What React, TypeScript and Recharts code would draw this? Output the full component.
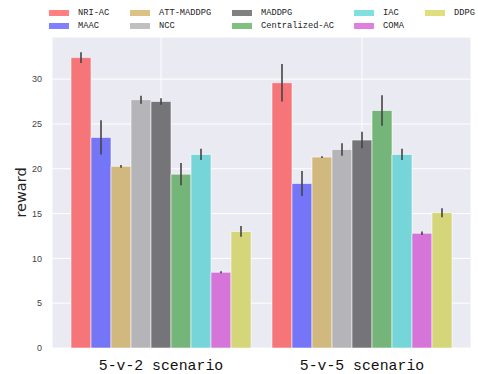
import React from 'react';
import { BarChart, Bar, XAxis, YAxis, CartesianGrid, ErrorBar } from 'recharts';

const CATEGORIES = ['5-v-2 scenario', '5-v-5 scenario'];

const METHODS = ['NRI-AC', 'MAAC', 'ATT-MADDPG', 'NCC', 'MADDPG', 'Centralized-AC', 'IAC', 'COMA', 'DDPG'];

const NRI_AC = [32.4, 29.6];
const MAAC = [23.5, 18.35];
const ATT_MADDPG = [20.27, 21.3];
const NCC = [27.7, 22.15];
const MADDPG = [27.5, 23.2];
const CENTRALIZED_AC = [19.4, 26.5];
const IAC = [21.6, 21.6];
const COMA = [8.45, 12.8];
const DDPG = [13.0, 15.1];

const NRI_AC_ERR = [0.6, 2.1];
const MAAC_ERR = [1.9, 1.4];
const ATT_MADDPG_ERR = [0.15, 0.1];
const NCC_ERR = [0.45, 0.7];
const MADDPG_ERR = [0.37, 0.92];
const CENTRALIZED_AC_ERR = [1.25, 1.7];
const IAC_ERR = [0.63, 0.63];
const COMA_ERR = [0.1, 0.2];
const DDPG_ERR = [0.6, 0.5];

const Y_TICKS = [0, 5, 10, 15, 20, 25, 30];

const VALUES = [NRI_AC, MAAC, ATT_MADDPG, NCC, MADDPG, CENTRALIZED_AC, IAC, COMA, DDPG];
const ERRORS = [NRI_AC_ERR, MAAC_ERR, ATT_MADDPG_ERR, NCC_ERR, MADDPG_ERR, CENTRALIZED_AC_ERR, IAC_ERR, COMA_ERR, DDPG_ERR];

// alpha 0.5 over the plot background (#eaeaf2)
const BAR_COLORS = ['#f57579', '#7575f8', '#d1b87e', '#b5b5b9', '#757579', '#75b579', '#75d5d9', '#d575d9', '#d5d579'];
// alpha 0.5 over white, for the legend patches
const LEGEND_COLORS = ['#ff8080', '#8080ff', '#dcc285', '#c0c0c0', '#808080', '#80c080', '#80dfdf', '#df80df', '#dfdf80'];

const data = CATEGORIES.map((name, i) => {
    const row: Record<string, any> = { name };
    METHODS.forEach((m, j) => {
        row[m] = VALUES[j][i];
        row[m + '_err'] = ERRORS[j][i];
    });
    return row;
});

const MONO = '"Liberation Mono", "DejaVu Sans Mono", monospace';

// legend is 5 columns x 2 rows, filled column by column
const LEGEND_COL_X = [49, 130, 232, 354, 425];
const LEGEND_ROW_Y = [9, 22.5];

const LegendBox = () => (
    <div style={{ position: 'absolute', left: 0, top: 0, width: 478, height: 36 }}>
        {METHODS.map((m, i) => {
            const col = Math.floor(i / 2);
            const row = i % 2;
            return (
                <div key={m} style={{ position: 'absolute', left: LEGEND_COL_X[col], top: LEGEND_ROW_Y[row], display: 'flex', alignItems: 'center', height: 7 }}>
                    <div style={{ width: 20, height: 6, background: LEGEND_COLORS[i] }} />
                    <span style={{ marginLeft: 9, fontFamily: MONO, fontSize: 8.7, color: '#222', whiteSpace: 'nowrap' }}>{m}</span>
                </div>
            );
        })}
    </div>
);

const YLabel = (props: any) => {
    const vb = props.viewBox || { x: 0, y: 37, height: 311 };
    const cx = 21;
    const cy = vb.y + vb.height / 2;
    return (
        <text x={cx} y={cy} transform={`rotate(-90 ${cx} ${cy})`} textAnchor="middle" dominantBaseline="central"
            fontFamily='"DejaVu Sans", sans-serif' fontSize={14.5} fill="#222">
            reward
        </text>
    );
};

export default function App() {
    return (
        <div style={{ position: 'absolute', left: 0, top: 0, width: 478, height: 374, background: '#fff' }}>
            <LegendBox />
            <BarChart
                width={478}
                height={374}
                data={data}
                margin={{ top: 37, right: 7, left: 0, bottom: 0 }}
                barCategoryGap={10.5}
                barGap={0}
            >
                <CartesianGrid fill="#eaeaf2" stroke="#ffffff" strokeWidth={1} vertical={true} horizontal={true} />
                <XAxis
                    dataKey="name"
                    height={26}
                    padding={{ left: 8.5, right: 8.5 }}
                    tickLine={false}
                    axisLine={false}
                    tickMargin={5}
                    tick={{ fontFamily: MONO, fontSize: 14.8, fill: '#111' }}
                />
                <YAxis
                    width={52}
                    domain={[0, 34.7]}
                    ticks={Y_TICKS}
                    tickLine={false}
                    axisLine={false}
                    tickMargin={4}
                    tick={{ fontFamily: '"Liberation Sans", Arial, sans-serif', fontSize: 9, fill: '#444' }}
                    label={<YLabel />}
                />
                {METHODS.map((m, i) => (
                    <Bar key={m} dataKey={m} fill={BAR_COLORS[i]} stroke="#ffffff" strokeOpacity={0.7} strokeWidth={0.8} isAnimationActive={false}>
                        <ErrorBar dataKey={m + '_err'} width={0} stroke="#444444" strokeWidth={1.6} direction="y" />
                    </Bar>
                ))}
            </BarChart>
        </div>
    );
}
